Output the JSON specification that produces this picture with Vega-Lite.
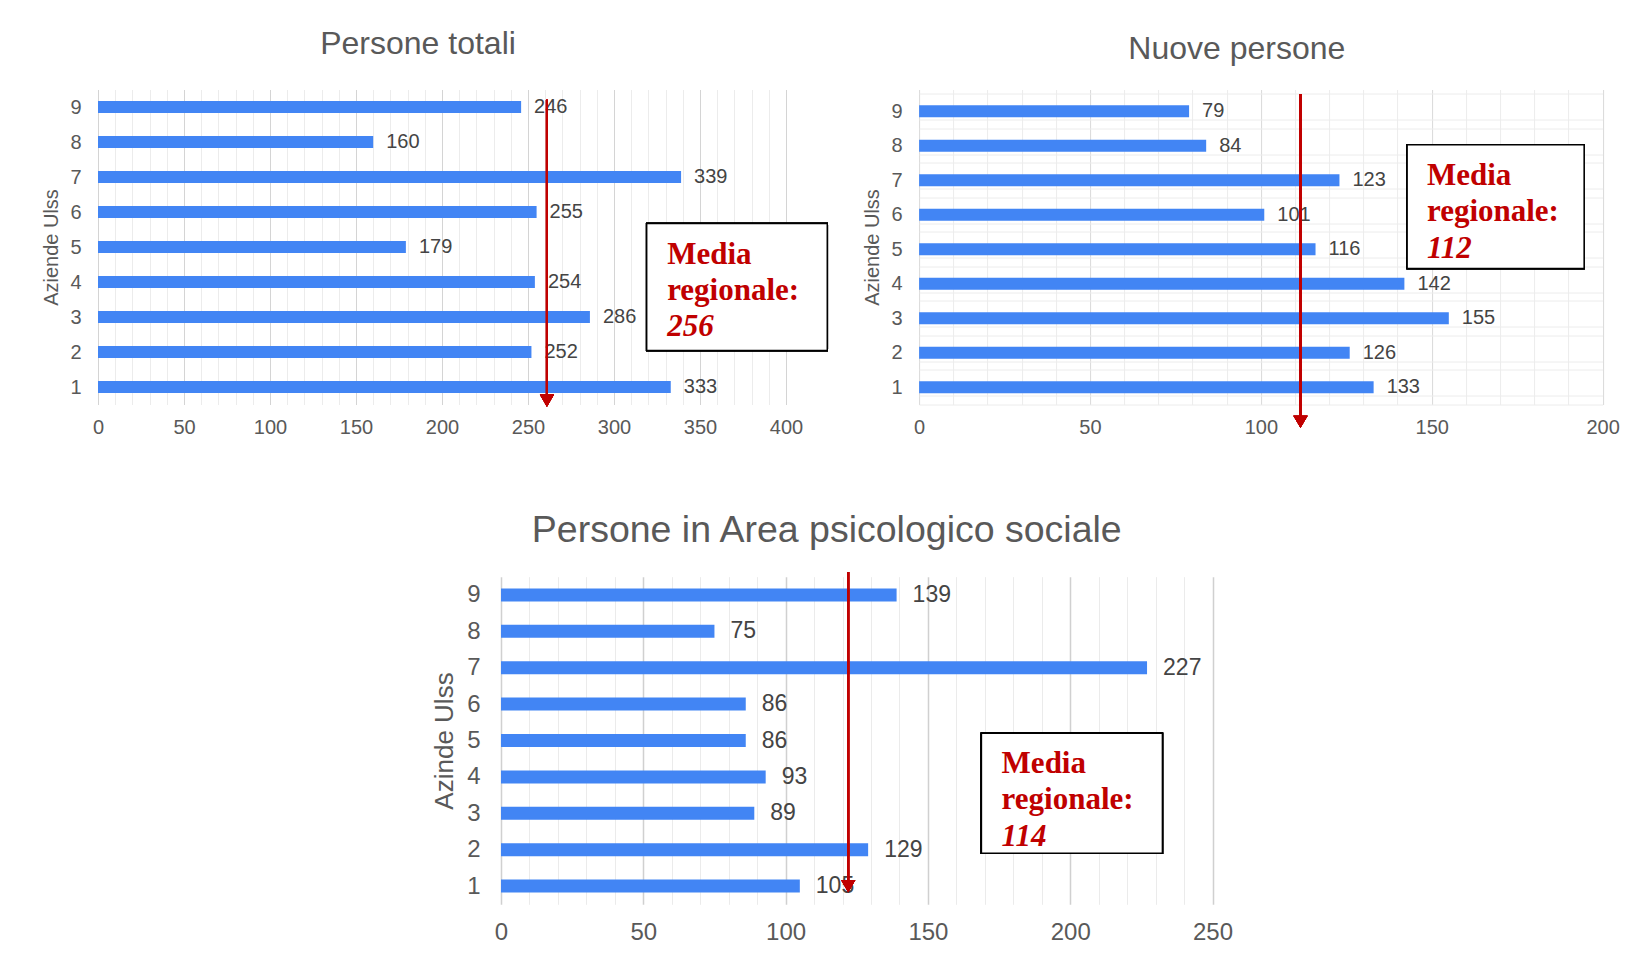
{
  "$schema": "https://vega.github.io/schema/vega-lite/v6.json",
  "background": "white",
  "padding": {"left": 41, "top": 27.5, "right": 5, "bottom": 5},
  "config": {
    "view": {"stroke": null},
    "font": "Liberation Sans",
    "title": {"font": "Liberation Sans", "fontWeight": "normal", "color": "#595959", "anchor": "middle"},
    "axis": {"labelFont": "Liberation Sans", "titleFont": "Liberation Sans", "labelColor": "#595959", "titleColor": "#595959", "titleFontWeight": "normal", "ticks": false, "domain": false}
  },
  "datasets": {
    "totali": [
      {"ulss": 1, "value": 333}, {"ulss": 2, "value": 252}, {"ulss": 3, "value": 286},
      {"ulss": 4, "value": 254}, {"ulss": 5, "value": 179}, {"ulss": 6, "value": 255},
      {"ulss": 7, "value": 339}, {"ulss": 8, "value": 160}, {"ulss": 9, "value": 246}
    ],
    "nuove": [
      {"ulss": 1, "value": 133}, {"ulss": 2, "value": 126}, {"ulss": 3, "value": 155},
      {"ulss": 4, "value": 142}, {"ulss": 5, "value": 116}, {"ulss": 6, "value": 101},
      {"ulss": 7, "value": 123}, {"ulss": 8, "value": 84}, {"ulss": 9, "value": 79}
    ],
    "psico": [
      {"ulss": 1, "value": 105}, {"ulss": 2, "value": 129}, {"ulss": 3, "value": 89},
      {"ulss": 4, "value": 93}, {"ulss": 5, "value": 86}, {"ulss": 6, "value": 86},
      {"ulss": 7, "value": 227}, {"ulss": 8, "value": 75}, {"ulss": 9, "value": 139}
    ],
    "medie": [
      {"panel": "totali", "head": "Media\nregionale:", "media": "256"},
      {"panel": "nuove", "head": "Media\nregionale:", "media": "112"},
      {"panel": "psico", "head": "Media\nregionale:", "media": "114"}
    ]
  },
  "spacing": 73.2,
  "vconcat": [
    {
      "hconcat": [
        {
          "width": 688,
          "height": 315,
          "title": {"text": "Persone totali", "fontSize": 32, "dx": -24, "offset": 29},
          "data": {"name": "totali"},
          "resolve": {"axis": {"x": "independent", "y": "independent"}},
          "layer": [
            {
              "mark": {"type": "bar", "orient": "horizontal", "size": 12, "color": "#4285f4"},
              "encoding": {
                "x": {"field": "value", "type": "quantitative",
                  "scale": {"domain": [0, 400], "nice": false, "padding": 0},
                  "axis": {"title": null, "values": [0,10,20,30,40,50,60,70,80,90,100,110,120,130,140,150,160,170,180,190,200,210,220,230,240,250,260,270,280,290,300,310,320,330,340,350,360,370,380,390,400],
                    "labelExpr": "datum.value % 50 === 0 ? datum.label : ''",
                    "grid": true,
                    "gridColor": {"condition": {"test": "datum.value % 50 === 0", "value": "#d4d4d4"}, "value": "#ececec"},
                    "labelFontSize": 20, "labelPadding": 13, "labelFlush": false, "labelOverlap": false}},
                "y": {"field": "ulss", "type": "quantitative",
                  "scale": {"domain": [0.5, 9.5], "nice": false, "zero": false, "padding": 0},
                  "axis": {"title": "Aziende Ulss", "values": [1,2,3,4,5,6,7,8,9], "format": "d", "grid": false, "labelOverlap": false,
                    "labelFontSize": 20, "labelPadding": 17, "titleFontSize": 20, "titlePadding": 8}}
              }
            },
            {
              "mark": {"type": "text", "align": "left", "baseline": "middle", "dx": 13, "fontSize": 20, "color": "#444444"},
              "encoding": {
                "x": {"field": "value", "type": "quantitative", "axis": null},
                "y": {"field": "ulss", "type": "quantitative", "axis": null},
                "text": {"field": "value", "type": "quantitative"}
              }
            },
            {
              "mark": {"type": "rect", "fill": "white", "stroke": "black", "strokeWidth": 1.5},
              "encoding": {"x": {"datum": 319, "axis": null}, "x2": {"datum": 424}, "y": {"datum": 5.67, "axis": null}, "y2": {"datum": 2.04}}
            },
            {
              "mark": {"type": "rule", "color": "#c00000", "strokeWidth": 2},
              "encoding": {"x": {"datum": 261, "axis": null}, "y": {"datum": 9.21, "axis": null}, "y2": {"datum": 0.75}}
            },
            {
              "mark": {"type": "point", "shape": "triangle-down", "filled": true, "size": 200, "color": "#c00000", "opacity": 1},
              "encoding": {"x": {"datum": 261, "axis": null}, "y": {"datum": 0.61, "axis": null}}
            },
            {
              "data": {"name": "medie"},
              "transform": [{"filter": "datum.panel === 'totali'"}],
              "mark": {"type": "text", "font": "Liberation Serif", "fontWeight": "bold", "fontSize": 31, "color": "#c00000", "align": "left", "baseline": "alphabetic", "lineBreak": "\n", "lineHeight": 36},
              "encoding": {"x": {"datum": 330.9, "axis": null}, "y": {"datum": 4.51, "axis": null}, "text": {"field": "head"}}
            },
            {
              "data": {"name": "medie"},
              "transform": [{"filter": "datum.panel === 'totali'"}],
              "mark": {"type": "text", "font": "Liberation Serif", "fontWeight": "bold", "fontStyle": "italic", "fontSize": 31, "color": "#c00000", "align": "left", "baseline": "alphabetic"},
              "encoding": {"x": {"datum": 330.9, "axis": null}, "y": {"datum": 2.46, "axis": null}, "text": {"field": "media"}}
            }
          ]
        },
        {
          "width": 683.5,
          "height": 315,
          "title": {"text": "Nuove persone", "fontSize": 32, "dx": -24, "offset": 18.3},
          "data": {"name": "nuove"},
          "resolve": {"axis": {"x": "independent", "y": "independent"}},
          "layer": [
            {
              "mark": {"type": "bar", "orient": "horizontal", "size": 12, "color": "#4285f4"},
              "encoding": {
                "x": {"field": "value", "type": "quantitative",
                  "scale": {"domain": [0, 200], "nice": false, "padding": 0},
                  "axis": {"title": null, "values": [0,10,20,30,40,50,60,70,80,90,100,110,120,130,140,150,160,170,180,190,200],
                    "labelExpr": "datum.value % 50 === 0 ? datum.label : ''",
                    "grid": true,
                    "gridColor": {"condition": {"test": "datum.value % 50 === 0", "value": "#d9d9d9"}, "value": "#ececec"},
                    "labelFontSize": 20, "labelPadding": 13, "labelFlush": false, "labelOverlap": false}},
                "y": {"field": "ulss", "type": "quantitative",
                  "scale": {"domain": [0.5, 9.63], "nice": false, "zero": false, "padding": 0},
                  "axis": {"title": "Aziende Ulss", "values": [0.5,0.75,1,1.5,1.75,2,2.5,2.75,3,3.5,3.75,4,4.5,4.75,5,5.5,5.75,6,6.5,6.75,7,7.5,7.75,8,8.5,8.75,9,9.5],
                    "labelExpr": "datum.value % 1 === 0 ? '' + datum.value : ''",
                    "grid": true, "gridColor": "#ececec",
                    "gridOpacity": {"condition": {"test": "datum.value % 1 !== 0", "value": 1}, "value": 0},
                    "labelOverlap": false,
                    "labelFontSize": 20, "labelPadding": 17, "titleFontSize": 20, "titlePadding": 8}}
              }
            },
            {
              "mark": {"type": "text", "align": "left", "baseline": "middle", "dx": 13, "fontSize": 20, "color": "#444444"},
              "encoding": {
                "x": {"field": "value", "type": "quantitative", "axis": null},
                "y": {"field": "ulss", "type": "quantitative", "axis": null},
                "text": {"field": "value", "type": "quantitative"}
              }
            },
            {
              "mark": {"type": "rect", "fill": "white", "stroke": "black", "strokeWidth": 1.5},
              "encoding": {"x": {"datum": 142.8, "axis": null}, "x2": {"datum": 194.6}, "y": {"datum": 8.03, "axis": null}, "y2": {"datum": 4.44}}
            },
            {
              "mark": {"type": "rule", "color": "#c00000", "strokeWidth": 2},
              "encoding": {"x": {"datum": 111.6, "axis": null}, "y": {"datum": 9.5, "axis": null}, "y2": {"datum": 0.15}}
            },
            {
              "mark": {"type": "point", "shape": "triangle-down", "filled": true, "size": 200, "color": "#c00000", "opacity": 1},
              "encoding": {"x": {"datum": 111.6, "axis": null}, "y": {"datum": 0.0, "axis": null}}
            },
            {
              "data": {"name": "medie"},
              "transform": [{"filter": "datum.panel === 'nuove'"}],
              "mark": {"type": "text", "font": "Liberation Serif", "fontWeight": "bold", "fontSize": 31, "color": "#c00000", "align": "left", "baseline": "alphabetic", "lineBreak": "\n", "lineHeight": 36},
              "encoding": {"x": {"datum": 148.6, "axis": null}, "y": {"datum": 6.86, "axis": null}, "text": {"field": "head"}}
            },
            {
              "data": {"name": "medie"},
              "transform": [{"filter": "datum.panel === 'nuove'"}],
              "mark": {"type": "text", "font": "Liberation Serif", "fontWeight": "bold", "fontStyle": "italic", "fontSize": 31, "color": "#c00000", "align": "left", "baseline": "alphabetic"},
              "encoding": {"x": {"datum": 148.6, "axis": null}, "y": {"datum": 4.76, "axis": null}, "text": {"field": "media"}}
            }
          ]
        }
      ],
      "spacing": 133.1,
      "bounds": "flush"
    },
    {
      "hconcat": [
        {
          "width": 10,
          "height": 10,
          "data": {"values": [{}]},
          "mark": {"type": "point", "opacity": 0}
        },
        {
          "width": 711.5,
          "height": 327.6,
          "title": {"text": "Persone in Area psicologico sociale", "fontSize": 37.5, "dx": -30, "offset": 21.9},
          "data": {"name": "psico"},
          "resolve": {"axis": {"x": "independent", "y": "independent"}},
          "layer": [
            {
              "mark": {"type": "bar", "orient": "horizontal", "size": 13, "color": "#4285f4"},
              "encoding": {
                "x": {"field": "value", "type": "quantitative",
                  "scale": {"domain": [0, 250], "nice": false, "padding": 0},
                  "axis": {"title": null, "values": [0,10,20,30,40,50,60,70,80,90,100,110,120,130,140,150,160,170,180,190,200,210,220,230,240,250],
                    "labelExpr": "datum.value % 50 === 0 ? datum.label : ''",
                    "grid": true,
                    "gridColor": {"condition": {"test": "datum.value % 50 === 0", "value": "#d0d0d0"}, "value": "#ebebeb"},
                    "gridWidth": {"condition": {"test": "datum.value % 50 === 0", "value": 1.5}, "value": 1},
                    "labelFontSize": 24, "labelPadding": 16, "labelFlush": false, "labelOverlap": false}},
                "y": {"field": "ulss", "type": "quantitative",
                  "scale": {"domain": [0.5, 9.5], "nice": false, "zero": false, "padding": 0},
                  "axis": {"title": "Azinde Ulss", "values": [1,2,3,4,5,6,7,8,9], "format": "d", "grid": false, "labelOverlap": false,
                    "labelFontSize": 24, "labelPadding": 21, "titleFontSize": 26, "titlePadding": 9}}
              }
            },
            {
              "mark": {"type": "text", "align": "left", "baseline": "middle", "dx": 16, "fontSize": 23, "color": "#444444"},
              "encoding": {
                "x": {"field": "value", "type": "quantitative", "axis": null},
                "y": {"field": "ulss", "type": "quantitative", "axis": null},
                "text": {"field": "value", "type": "quantitative"}
              }
            },
            {
              "mark": {"type": "rect", "fill": "white", "stroke": "black", "strokeWidth": 1.5},
              "encoding": {"x": {"datum": 168.8, "axis": null}, "x2": {"datum": 232.4}, "y": {"datum": 5.2, "axis": null}, "y2": {"datum": 1.9}}
            },
            {
              "mark": {"type": "rule", "color": "#c00000", "strokeWidth": 2},
              "encoding": {"x": {"datum": 122, "axis": null}, "y": {"datum": 9.63, "axis": null}, "y2": {"datum": 1.1}}
            },
            {
              "mark": {"type": "point", "shape": "triangle-down", "filled": true, "size": 200, "color": "#c00000", "opacity": 1},
              "encoding": {"x": {"datum": 122, "axis": null}, "y": {"datum": 1.0, "axis": null}}
            },
            {
              "data": {"name": "medie"},
              "transform": [{"filter": "datum.panel === 'psico'"}],
              "mark": {"type": "text", "font": "Liberation Serif", "fontWeight": "bold", "fontSize": 31, "color": "#c00000", "align": "left", "baseline": "alphabetic", "lineBreak": "\n", "lineHeight": 36.5},
              "encoding": {"x": {"datum": 175.9, "axis": null}, "y": {"datum": 4.115, "axis": null}, "text": {"field": "head"}}
            },
            {
              "data": {"name": "medie"},
              "transform": [{"filter": "datum.panel === 'psico'"}],
              "mark": {"type": "text", "font": "Liberation Serif", "fontWeight": "bold", "fontStyle": "italic", "fontSize": 31, "color": "#c00000", "align": "left", "baseline": "alphabetic"},
              "encoding": {"x": {"datum": 175.9, "axis": null}, "y": {"datum": 2.11, "axis": null}, "text": {"field": "media"}}
            }
          ]
        }
      ],
      "spacing": 393,
      "bounds": "flush"
    }
  ]
}
